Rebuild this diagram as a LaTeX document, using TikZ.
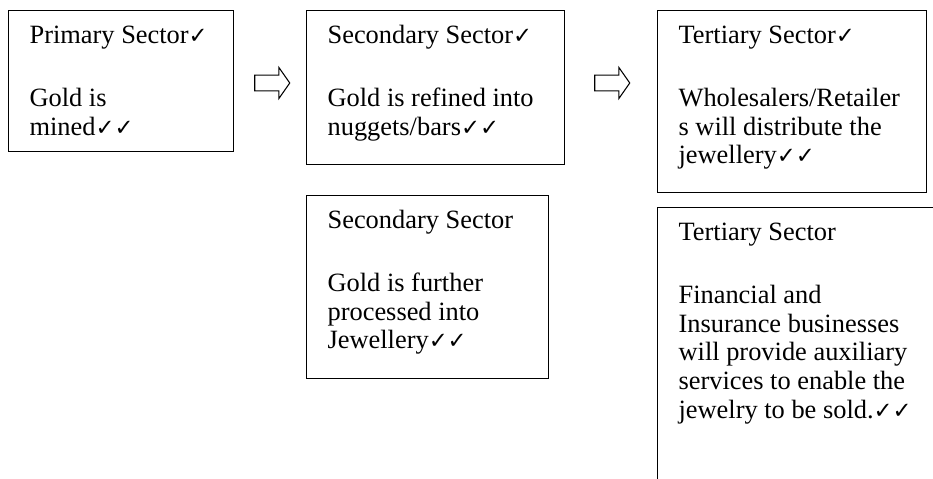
\documentclass[tikz,border=0pt]{standalone}
\usepackage{fontspec}
\setmainfont{Liberation Serif}
\newfontfamily\tickfont{DejaVu Sans}
\usetikzlibrary{shapes.arrows}
\newcommand{\okmark}{{\tickfont\fontsize{17pt}{17pt}\selectfont ✓}}

\begin{document}
\begin{tikzpicture}[x=0.75pt, y=-0.75pt,
        sector/.style={draw, line width=0.9pt, anchor=north west, inner xsep=15.75pt, inner ysep=0pt,
            align=flush left, text height=24.75pt, font=\fontsize{19.8pt}{21.5pt}\selectfont},
        block/.style={single arrow, draw, line width=0.8pt, inner xsep=0pt, inner ysep=5.5pt,
            minimum height=26.25pt, single arrow head extend=5.75pt, single arrow tip angle=110,
            single arrow head indent=0pt}]
        \useasboundingbox (0,0) rectangle (933,479);
        \clip (0,0) rectangle (933,479);

        \node[sector, text width=137.25pt, text depth=81pt] (p1) at (8,10)
            {Primary Sector\okmark\\[25.7pt]Gold is\\mined\okmark\okmark};
        \node[sector, text width=162pt, text depth=90.75pt] (s1) at (306,10)
            {Secondary Sector\okmark\\[25.7pt]Gold is refined into\\nuggets/bars\okmark\okmark};
        \node[sector, text width=170.25pt, text depth=111.75pt] (t1) at (657,10)
            {Tertiary Sector\okmark\\[25.7pt]Wholesalers/Retailer\\s will distribute the\\jewellery\okmark\okmark};
        \node[sector, text width=150pt, text depth=112.5pt] (s2) at (306,195)
            {Secondary Sector\\[25.7pt]Gold is further\\processed into\\Jewellery\okmark\okmark};
        \node[sector, text width=193.5pt, text depth=200.25pt] (t2) at (657,207)
            {Tertiary Sector\\[25.7pt]Financial and\\Insurance businesses\\will provide auxiliary\\services to enable the\\jewelry to be sold.\okmark\okmark};

        \node[block] (a1) at (269.5,83) {};
        \node[block] (a2) at (609.5,83) {};
    \end{tikzpicture}
\end{document}
